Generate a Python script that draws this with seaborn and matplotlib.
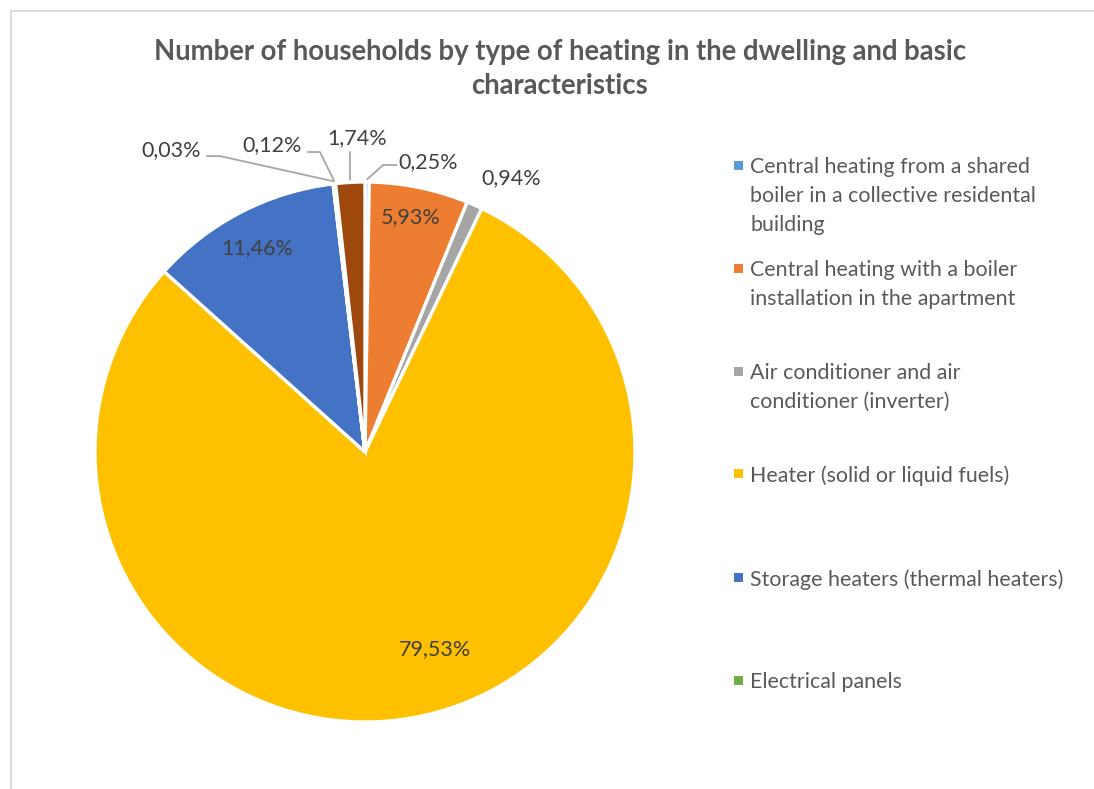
import numpy as np
import matplotlib
matplotlib.use("Agg")
import matplotlib.pyplot as plt
from matplotlib.patches import Rectangle
from matplotlib.lines import Line2D
import seaborn as sns

# Share of households (%) by heating type, in drawing order (clockwise from 12 o'clock)
categories = [
    "Central heating from a shared\nboiler in a collective residental\nbuilding",
    "Central heating with a boiler\ninstallation in the apartment",
    "Air conditioner and air\nconditioner (inverter)",
    "Heater (solid or liquid fuels)",
    "Storage heaters (thermal heaters)",
    "Electrical panels",
    "Other type 1",
    "Other type 2",
]
shares = [0.25, 5.93, 0.94, 79.53, 11.46, 0.03, 0.12, 1.74]
colors = ["#5B9BD5", "#ED7D31", "#A5A5A5", "#FFC000",
          "#4472C4", "#70AD47", "#264478", "#9E480E"]
legend_count = 6

title = "Number of households by type of heating in the dwelling and basic\ncharacteristics"

sns.set_theme(style="white")
plt.rcParams["font.family"] = ["Lato", "DejaVu Sans"]

W, H = 1094, 789
fig = plt.figure(figsize=(W / 100, H / 100), dpi=100)

# pie centre and radius in pixels
cx, cy, R = 365, 452, 270
ax = fig.add_axes([(cx - R) / W, 1 - (cy + R) / H, 2 * R / W, 2 * R / H])
palette = sns.color_palette(colors)
wedges, _ = ax.pie(shares, colors=palette, startangle=90, counterclock=False,
                   radius=1, wedgeprops=dict(edgecolor="white", linewidth=2.4))
ax.set_xlim(-1, 1)
ax.set_ylim(-1, 1)
ax.set_aspect("equal")
ax.axis("off")

def fmt(v):
    return f"{v:.2f}".replace(".", ",") + "%"

lab_color = "#404040"
lead_color = "#A6A6A6"
fs = 15.5

# label placement: (text x, text y, ha, elbow points or None)
placement = {
    0: (0.122, 1.075, "left", [(0.067, 1.063), (0.117, 1.063)]),
    1: (0.170, 0.871, "center", None),
    2: (0.541, 1.015, "center", None),
    3: (0.259, -0.731, "center", None),
    4: (-0.400, 0.756, "center", None),
    5: (-0.719, 1.119, "center", [(-0.537, 1.096), (-0.585, 1.096)]),
    6: (-0.343, 1.137, "center", [(-0.167, 1.111), (-0.211, 1.111)]),
    7: (-0.031, 1.163, "center", [(-0.056, 1.111)]),
}

for i, w in enumerate(wedges):
    tx, ty, ha, elbow = placement[i]
    ax.text(tx, ty, fmt(shares[i]), ha=ha, va="center", fontsize=fs,
            color=lab_color, clip_on=False)
    if elbow is not None:
        mid = np.deg2rad((w.theta1 + w.theta2) / 2)
        pts = [(1.01 * np.cos(mid), 1.01 * np.sin(mid))] + elbow
        xs, ys = zip(*pts)
        ax.add_line(Line2D(xs, ys, color=lead_color, lw=1.3, clip_on=False))

# title
fig.text(560 / W, 1 - 69 / H, title, ha="center", va="center", fontsize=19.8,
         fontweight="bold", color="#595959", linespacing=1.38)

# legend, drawn as marker + text rows
leg_y = [165, 268, 371, 473, 577, 680]
for k in range(legend_count):
    y = 1 - leg_y[k] / H
    fig.patches.append(Rectangle((734 / W, y - 4.5 / H), 8.5 / W, 8.5 / H,
                                 transform=fig.transFigure, facecolor=colors[k],
                                 edgecolor="none"))
    fig.text(750 / W, y + 8 / H, categories[k], ha="left", va="top",
             fontsize=15.4, color="#595959", linespacing=1.55,
             transform=fig.transFigure)

# chart-area frame (top and left edges visible)
fig.add_artist(Line2D([11 / W, 1], [1 - 11 / H, 1 - 11 / H], color="#D9D9D9",
                      lw=1.3, transform=fig.transFigure))
fig.add_artist(Line2D([11 / W, 11 / W], [0, 1 - 11 / H], color="#D9D9D9",
                      lw=1.3, transform=fig.transFigure))

fig.savefig("out.png", dpi=100, facecolor="white")
